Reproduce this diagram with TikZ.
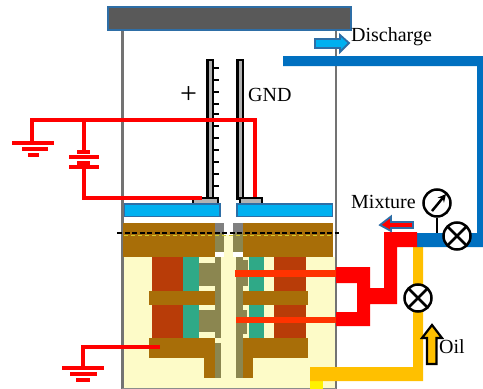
\documentclass[tikz,border=0pt]{standalone}
\usepackage{fontspec}
\setmainfont{Liberation Serif}
\definecolor{creamcol}{HTML}{FDFBC8}
\definecolor{browncol}{HTML}{A86E08}
\definecolor{olivecol}{HTML}{8B8650}
\definecolor{coilcol}{HTML}{B83C08}
\definecolor{greencol}{HTML}{2FA987}
\definecolor{platecol}{HTML}{00B0F0}
\definecolor{edgecol}{HTML}{2E6EA6}
\definecolor{pipeblue}{HTML}{0070C0}
\definecolor{oilcol}{HTML}{FFC000}
\definecolor{wirecol}{HTML}{FF3300}
\tikzset{
  wall/.style={draw=black!55,line width=2.4pt},
  redwire/.style={draw=red,line width=3.5pt},
  redbar/.style={fill=red},
  brownpart/.style={fill=browncol},
  olivepart/.style={fill=olivecol},
  coilpart/.style={fill=coilcol},
  greenpart/.style={fill=greencol},
  creampart/.style={fill=creamcol},
  electrode/.style={draw=black,fill=black!30,line width=2.2pt},
  plate/.style={draw=edgecol,fill=platecol,line width=1.8pt},
  valve/.style={circle,draw=black,fill=white,line width=2.5pt,minimum size=27pt,inner sep=0pt,
    path picture={\draw [black,line width=2.5pt]
      (path picture bounding box.north west) -- (path picture bounding box.south east)
      (path picture bounding box.north east) -- (path picture bounding box.south west);}},
  gauge/.style={circle,draw=black,fill=white,line width=2.5pt,minimum size=27pt,inner sep=0pt},
  label/.style={inner sep=0pt,font=\fontsize{20}{24}\selectfont}
}
\begin{document}
\begin{tikzpicture}[x=1pt,y=1pt]
\useasboundingbox (0,0) rectangle (483,-389);
% chamber
\fill [creampart] (122,-257) rectangle (336,-388);
\fill [creampart] (224,-235) rectangle (233,-257);
\draw [wall] (122.5,-30) -- (122.5,-389);
\draw [wall] (336,-30) -- (336,-389);
\draw [black!45,line width=1pt] (122,-388.5) -- (336,-388.5);
\draw [draw=edgecol,fill=black!65,line width=1.4pt] (108,-7) rectangle (351,-30);
% upper brown band
\fill [brownpart] (123,-223) rectangle (215,-257);
\fill [brownpart] (243,-223) rectangle (333,-257);
\fill [black!50] (215,-223) rectangle (224,-233);
\fill [black!50] (233,-223) rectangle (243,-233);
\fill [olivepart] (215,-233) rectangle (224,-252);
\fill [olivepart] (233,-233) rectangle (243,-252);
% left stack
\fill [coilpart] (152,-257) rectangle (183,-291);
\fill [coilpart] (152,-305) rectangle (183,-338);
\fill [greenpart] (183,-257) rectangle (199,-291);
\fill [greenpart] (183,-305) rectangle (199,-338);
\fill [olivepart] (199,-263) rectangle (215,-286);
\fill [olivepart] (199,-310) rectangle (215,-332);
\fill [olivepart] (215,-257) rectangle (221,-338);
\fill [brownpart] (149,-291) rectangle (215,-305);
\fill [brownpart] (149,-338) rectangle (215,-358);
\fill [brownpart] (204,-358) rectangle (215,-378);
\fill [olivepart] (215,-343) rectangle (221,-378);
% right stack
\fill [olivepart] (236,-257) rectangle (243,-378);
\fill [olivepart] (243,-260) rectangle (248,-286);
\fill [olivepart] (243,-310) rectangle (247,-334);
\fill [greenpart] (249,-257) rectangle (264,-291);
\fill [greenpart] (249,-305) rectangle (264,-338);
\fill [coilpart] (274,-257) rectangle (306,-291);
\fill [coilpart] (274,-305) rectangle (306,-338);
\fill [brownpart] (243,-291) rectangle (308,-305);
\fill [brownpart] (243,-338) rectangle (308,-358);
\fill [brownpart] (243,-358) rectangle (253,-378);
\fill [wirecol] (235,-270) rectangle (336,-277);
\fill [wirecol] (236,-317) rectangle (336,-323);
% seal line
\draw [yellow!80!black,line width=1pt,dash pattern=on 4pt off 3pt] (124,-235) -- (334,-235);
\draw [black,line width=2.2pt,dash pattern=on 5pt off 2.5pt] (117,-233) -- (339,-233);
% electrodes
\draw [electrode] (207.5,-60) rectangle (213,-199);
\draw [electrode] (237.5,-60) rectangle (243,-199);
\foreach \ty in {68,80,92,104,114,126,138,150,162,174,186}
  \draw [black,line width=2.2pt] (213,-\ty) -- (219,-\ty);
\draw [electrode] (193,-198) rectangle (218,-204);
\draw [electrode] (240,-198) rectangle (262,-204);
\draw [plate] (124.5,-204) rectangle (220,-216.5);
\draw [plate] (237,-204) rectangle (332.5,-216.5);
% circuit
\draw [redwire] (32,-143) |- (255,-120) -- (255,-197);
\draw [redwire] (84,-120) -- (84,-150);
\draw [redwire] (84,-169) |- (202,-198);
\fill [redbar] (12,-141) rectangle (54,-145);
\fill [redbar] (22,-147) rectangle (48,-151);
\fill [redbar] (28,-153) rectangle (39,-157);
\fill [redbar] (77,-150) rectangle (90,-154);
\fill [redbar] (69,-155) rectangle (99,-159);
\fill [redbar] (77,-161) rectangle (90,-165);
\fill [redbar] (69,-165) rectangle (99,-169);
% lower ground
\draw [redwire] (83,-366) |- (160,-347);
\fill [redbar] (62,-366) rectangle (104,-370);
\fill [redbar] (70,-372) rectangle (97,-376);
\fill [redbar] (76,-378) rectangle (90,-382);
% pipes
\fill [yellow] (310,-381) rectangle (323,-389);
\fill [oilcol] (310,-367) -- (413,-367) -- (413,-247) -- (423,-247) -- (423,-381) -- (310,-381) -- cycle;
\fill [pipeblue] (283,-56) -- (483,-56) -- (483,-247) -- (417,-247) -- (417,-233) -- (477,-233) -- (477,-66) -- (283,-66) -- cycle;
\fill [red] (336,-267) -- (370,-267) -- (370,-288) -- (384,-288) -- (384,-232) -- (417,-232) -- (417,-247) -- (397,-247) -- (397,-304) -- (370,-304) -- (370,-326) -- (336,-326) -- (336,-312) -- (357,-312) -- (357,-283) -- (336,-283) -- cycle;
% valves and gauge
\node [valve] (oilvalve) at (418,-298) {};
\node [valve] (ventvalve) at (457,-236) {};
\node [gauge] (meter) at (437,-203) {};
\coordinate (meterfoot) at (437,-233);
\coordinate (needletail) at (432,-211);
\coordinate (needletip) at (446,-194);
\draw [black,line width=2.5pt] (meter.south) -- (meterfoot);
\draw [black,line width=2.5pt,-stealth] (needletail) -- (needletip);
% block arrows
\draw [draw=edgecol,fill=platecol,line width=1.8pt] (315,-39) -- (340,-39) -- (340,-35) -- (349,-43) -- (340,-52) -- (340,-48) -- (315,-48) -- cycle;
\draw [draw=edgecol,fill=red,line width=1.8pt] (413,-222) -- (391,-222) -- (391,-216.5) -- (380,-225) -- (391,-231) -- (391,-228) -- (413,-228) -- cycle;
\draw [draw=black,fill=oilcol,line width=2.2pt] (427,-364) -- (427,-338) -- (422,-338) -- (432,-325) -- (442,-338) -- (436.5,-338) -- (436.5,-364) -- cycle;
% labels
\node [label,anchor=west] (discharge) at (351,-37) {Discharge};
\node [label,anchor=west] (mixture) at (351,-202) {Mixture};
\node [label,anchor=west] (oil) at (439,-347) {Oil};
\node [label,anchor=west] (gnd) at (248,-95) {GND};
\node [label,font=\fontsize{30}{32}\selectfont] (plus) at (188.5,-95) {+};
\end{tikzpicture}
\end{document}
